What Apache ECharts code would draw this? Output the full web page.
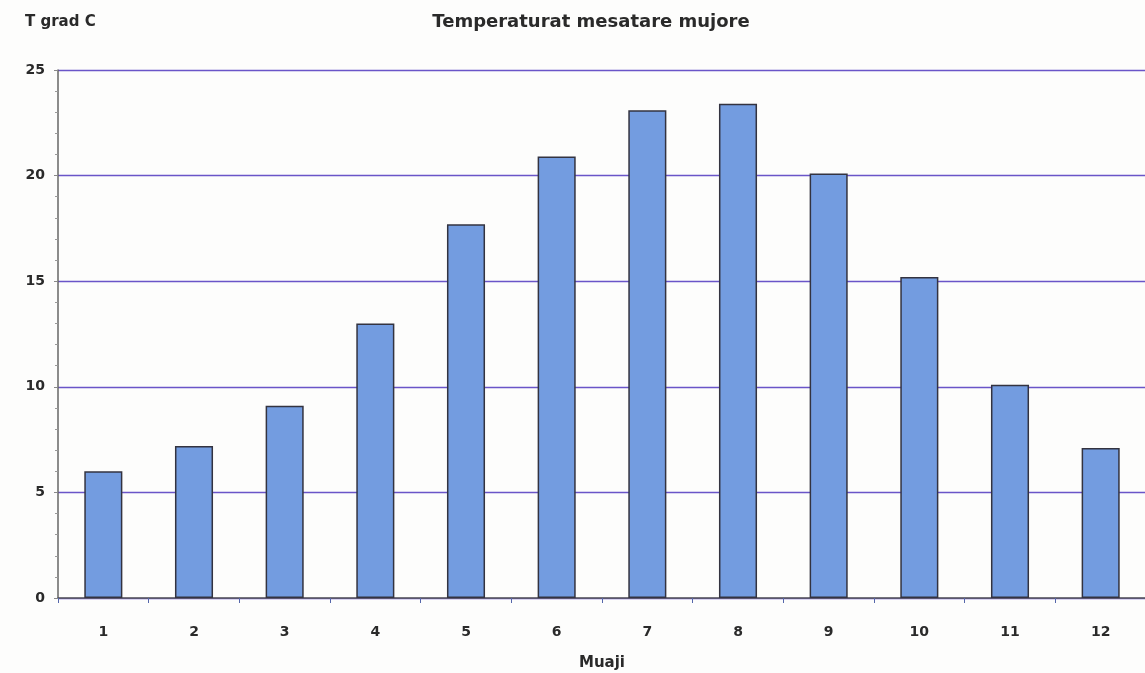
<!DOCTYPE html>
<html><head><meta charset="utf-8">
<script src="https://cdn.jsdelivr.net/npm/echarts@6/dist/echarts.min.js"></script>
<style>html,body{margin:0;padding:0;background:#fff}#c{width:1145px;height:673px}</style>
</head><body><div id="c"></div>
<script>
const months = ['1','2','3','4','5','6','7','8','9','10','11','12'];
const temps = [6.0, 7.2, 9.1, 13.0, 17.7, 20.9, 23.1, 23.4, 20.1, 15.2, 10.1, 7.1];
const yTicks = [0, 5, 10, 15, 20, 25];

const chart = echarts.init(document.getElementById('c'));
const font = 'DejaVu Sans, Liberation Sans, sans-serif';
chart.setOption({
  animation: false,
  backgroundColor: '#fdfdfc',
  title: [{
    text: 'Temperaturat mesatare mujore',
    left: 586, top: 8, textAlign: 'center',
    textStyle: {fontFamily: font, fontSize: 18, fontWeight: 'bold', color: '#2a2a2a'}
  }, {
    text: 'T grad C',
    left: 20, top: 10,
    textStyle: {fontFamily: font, fontSize: 15, fontWeight: 'bold', color: '#2a2a2a'}
  }],
  grid: {left: 58, right: -1, top: 70, bottom: 75, outerBoundsMode: 'none', containLabel: false},
  xAxis: {
    type: 'category', data: months,
    name: 'Muaji', nameLocation: 'middle', nameGap: 58,
    nameTextStyle: {fontFamily: font, fontSize: 15, fontWeight: 'bold', color: '#2a2a2a'},
    axisLine: {lineStyle: {color: '#555', width: 1.5}},
    axisTick: {show: true, length: 5, lineStyle: {color: '#5566aa'}},
    axisLabel: {fontFamily: font, fontSize: 14, fontWeight: 'bold', color: '#2a2a2a', margin: 27}
  },
  yAxis: {
    type: 'value', min: yTicks[0], max: yTicks[yTicks.length-1], interval: 5,
    axisLine: {show: true, lineStyle: {color: '#666', width: 1.5}},
    axisTick: {show: true, length: 4, lineStyle: {color: '#888'}},
    minorTick: {show: true, splitNumber: 5, length: 3, lineStyle: {color: '#999'}},
    axisLabel: {fontFamily: font, fontSize: 14, fontWeight: 'bold', color: '#2a2a2a', margin: 13},
    splitLine: {lineStyle: {color: '#6a55c8', width: 1.3}}
  },
  series: [{
    type: 'bar', data: temps, barWidth: '42%',
    itemStyle: {color: '#739ce0', borderColor: '#333340', borderWidth: 1.5}
  }]
});
</script></body></html>
